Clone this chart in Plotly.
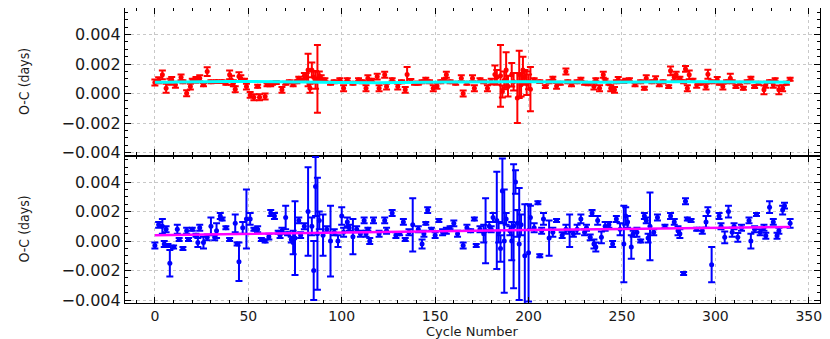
import plotly.graph_objects as go
from plotly.subplots import make_subplots

# ----------------------------
# Data (O-C residuals in days)
# ----------------------------

top_cycle = [0, 2, 4, 6, 8, 9, 11, 14, 15, 17, 19, 20, 22, 24, 26, 28, 30, 33, 36, 38,
             40, 41, 42, 43, 45, 46, 48, 49, 51, 53, 55, 56, 59, 60, 62, 63, 65, 68, 70, 72,
             74, 76, 77, 79, 80, 81, 82, 83, 84, 85, 86, 87, 88, 89, 91, 94, 96, 99, 101, 103,
             106, 109, 111, 113, 114, 116, 119, 120, 123, 124, 127, 130, 132, 134, 135, 137, 139, 141, 143, 145,
             147, 149, 151, 153, 155, 156, 158, 161, 164, 165, 167, 170, 171, 174, 176, 178, 180, 182, 183, 185,
             186, 187, 188, 189, 191, 192, 194, 195, 196, 197, 198, 199, 200, 201, 203, 206, 209, 211, 213, 215,
             217, 220, 221, 223, 226, 228, 230, 232, 235, 236, 238, 240, 241, 243, 244, 246, 247, 248, 251, 252,
             254, 257, 260, 262, 263, 266, 268, 270, 272, 275, 276, 278, 279, 281, 283, 284, 285, 286, 288, 290,
             292, 295, 296, 298, 301, 302, 304, 306, 308, 309, 311, 313, 315, 317, 319, 321, 323, 326, 327, 329,
             331, 332, 334, 336, 338, 340]

top_oc = [0.00075, 0.0009, 0.00127, 0.00036, 0.0008, 0.00093, 0.0006, 0.0011, 0.0008, 0.00002,
          0.00047, 0.0009, 0.00093, 0.00104, 0.00059, 0.00149, 0.0008, 0.00081, 0.00081, 0.0007,
          0.00127, 0.0009, 0.0007, 0.00029, 0.00115, 0.00104, 0.0009, 0.00047, -0.00009, -0.00025,
          0.0005, -0.00025, -0.0002, 0.0006, 0.00059, 0.0007, 0.00075, 0.00025, 0.0007, 0.0008,
          0.00059, 0.0008, 0.00104, 0.0009, 0.0012, 0.0011, 0.0016, 0.00036, 0.0016, 0.0011,
          0.00093, 0.001, 0.0012, 0.00104, 0.00093, 0.0007, 0.0008, 0.00093, 0.00036, 0.00093,
          0.0007, 0.00093, 0.0008, 0.00036, 0.00104, 0.0009, 0.00115, 0.00036, 0.00127, 0.00047,
          0.00093, 0.00047, 0.0008, 0.00025, 0.0013, 0.00088, 0.0007, 0.0007, 0.0008, 0.00097,
          0.0008, 0.00036, 0.00052, 0.0008, 0.00093, 0.00127, 0.0008, 0.0007, 0.00104, 0.0,
          0.0007, 0.00104, 0.00036, 0.00093, 0.0008, 0.00036, 0.00081, 0.0013, 0.0011, 0.0012,
          0.00014, 0.0009, 0.0016, 0.0005, 0.00127, 0.0008, -0.0003, 0.0013, 0.0006, 0.0016,
          0.0011, 0.0007, 0.0008, 0.0003, 0.00093, 0.00081, 0.00047, 0.0008, 0.00104, 0.00052,
          0.0007, 0.00149, 0.0008, 0.00059, 0.0008, 0.00097, 0.0007, 0.00066, 0.00047, 0.00093,
          0.00036, 0.00127, 0.0009, 0.0007, 0.00036, 0.00025, 0.0008, 0.00093, 0.00081, 0.0009,
          0.00093, 0.00059, 0.0008, 0.00036, 0.00104, 0.0008, 0.00097, 0.00059, 0.0008, 0.00047,
          0.00154, 0.0011, 0.00127, 0.00104, 0.0008, 0.00167, 0.00036, 0.00127, 0.0009, 0.00059,
          0.0007, 0.00047, 0.00131, 0.0008, 0.00093, 0.0007, 0.00047, 0.0008, 0.00104, 0.0008,
          0.00047, 0.0007, 0.00036, 0.0008, 0.00104, 0.00047, 0.0007, 0.00025, 0.0006, 0.00081,
          0.0006, 0.00093, 0.00025, 0.00036, 0.0007, 0.00097]

top_err = [0.0002, 0.0002, 0.0003, 0.0003, 0.0002, 0.0002, 0.0002, 0.0002, 0.0001, 0.0002,
           0.0002, 0.0001, 0.0002, 0.0002, 0.0001, 0.0003, 0.0001, 0.0001, 0.0001, 0.0001,
           0.0003, 0.0003, 0.0002, 0.0002, 0.0003, 0.0002, 0.0001, 0.0002, 0.0002, 0.0002,
           0.0001, 0.0002, 0.0002, 0.0001, 0.0001, 0.0001, 0.0001, 0.0002, 0.0001, 0.0001,
           0.0001, 0.0001, 0.0001, 0.0001, 0.0002, 0.0003, 0.0011, 0.0003, 0.0005, 0.0004,
           0.0006, 0.0023, 0.0003, 0.0002, 0.0001, 0.0001, 0.0001, 0.0001, 0.0002, 0.0001,
           0.0001, 0.0001, 0.0001, 0.0002, 0.0002, 0.0001, 0.0002, 0.0002, 0.0002, 0.0002,
           0.0001, 0.0002, 0.0001, 0.0002, 0.0005, 0.0001, 0.0001, 0.0001, 0.0001, 0.0001,
           0.0001, 0.0002, 0.0002, 0.0001, 0.0001, 0.0002, 0.0001, 0.0001, 0.0002, 0.0002,
           0.0001, 0.0002, 0.0002, 0.0001, 0.0001, 0.0002, 0.0002, 0.0006, 0.0005, 0.0021,
           0.0004, 0.0006, 0.0012, 0.0007, 0.0008, 0.0006, 0.0017, 0.0016, 0.0008, 0.0009,
           0.0005, 0.0008, 0.0005, 0.0015, 0.0001, 0.0001, 0.0001, 0.0001, 0.0001, 0.0002,
           0.0001, 0.0002, 0.0001, 0.0001, 0.0001, 0.0001, 0.0001, 0.0001, 0.0002, 0.0001,
           0.0002, 0.0002, 0.0001, 0.0001, 0.0002, 0.0002, 0.0001, 0.0002, 0.0001, 0.0001,
           0.0001, 0.0001, 0.0001, 0.0001, 0.0002, 0.0001, 0.0002, 0.0001, 0.0001, 0.0001,
           0.0003, 0.0002, 0.0002, 0.0001, 0.0001, 0.0002, 0.0002, 0.0003, 0.0001, 0.0002,
           0.0001, 0.0002, 0.0003, 0.0001, 0.0002, 0.0001, 0.0002, 0.0001, 0.0003, 0.0001,
           0.0001, 0.0001, 0.0001, 0.0001, 0.0001, 0.0001, 0.0001, 0.0003, 0.0002, 0.0001,
           0.0002, 0.0001, 0.0003, 0.0002, 0.0001, 0.0001]

top_fit_cycle = [0, 40, 80, 120, 160, 200, 240, 280, 320, 340]
top_fit_oc = [0.00076, 0.00082, 0.00078, 0.00074, 0.00078, 0.0008, 0.00076, 0.0008, 0.00078, 0.00076]

bot_cycle = [0, 2, 4, 5, 6, 7, 8, 10, 12, 13, 15, 17, 18, 20, 22, 23, 24, 26, 28, 30,
             32, 33, 35, 36, 38, 40, 43, 44, 45, 47, 49, 51, 53, 55, 57, 59, 61, 62, 64, 66,
             67, 68, 70, 71, 73, 74, 75, 77, 78, 80, 82, 84, 85, 86, 87, 88, 90, 92, 94, 96,
             98, 100, 101, 103, 104, 106, 108, 110, 112, 113, 114, 115, 117, 120, 123, 124, 127, 129, 131, 133,
             134, 136, 138, 141, 143, 144, 145, 146, 148, 150, 152, 154, 156, 158, 160, 162, 165, 167, 169, 171,
             172, 174, 176, 177, 179, 180, 181, 183, 184, 185, 186, 187, 188, 190, 191, 192, 193, 194, 195, 196,
             198, 200, 201, 203, 205, 206, 207, 208, 211, 213, 215, 218, 220, 222, 224, 226, 228, 230, 231, 233,
             234, 235, 236, 237, 239, 241, 243, 245, 247, 249, 251, 252, 253, 255, 256, 258, 260, 262, 263, 264,
             265, 267, 269, 273, 276, 278, 280, 281, 283, 284, 285, 287, 290, 293, 295, 296, 298, 302, 303, 305,
             307, 309, 310, 312, 314, 318, 319, 321, 322, 324, 326, 327, 329, 331, 333, 334, 336, 337, 340]

bot_oc = [-0.0003, 0.0011, 0.001, -0.0002, 0.0008, -0.0003, -0.0015, -0.0004, 0.0008, 0.0001,
          -0.0005, 0.0007, 0.0001, 0.0008, 0.0004, -0.0001, 0.0009, -0.0001, 0.00025, 0.001,
          0.00025, 0.0007, 0.0017, 0.0015, 0.0009, 0.0001, 0.0012, -0.0002, -0.0014, 0.0009,
          0.0015, 0.0015, 0.0008, 0.0008, 0.0001, 0.0, 0.0003, 0.0019, 0.0017, 0.0006,
          0.0004, 0.0007, 0.0016, 0.0005, 0.0001, -0.0001, 0.0002, 0.0014, 0.0004, 0.001,
          0.002, 0.001, -0.002, 0.0037, 0.0005, 0.0014, 0.0004, 0.0008, 0.0, 0.0006,
          0.0, 0.0017, 0.0006, 0.0013, 0.0009, 0.0003, 0.0008, 0.0005, 0.0014, 0.0005,
          0.0008, 0.0, 0.0014, 0.0005, 0.0014, 0.0007, 0.0019, 0.0004, 0.0005, 0.0013,
          0.0001, 0.0006, 0.0011, 0.0008, -0.0002, 0.0005, 0.0012, 0.0021, 0.0008, 0.0004,
          0.0014, 0.0006, 0.0007, 0.0009, 0.0012, 0.0005, -0.0003, 0.0009, 0.0007, 0.0015,
          -0.0003, 0.0008, 0.0005, 0.0007, 0.001, 0.0008, 0.0016, 0.0014, 0.0006, -0.0005,
          0.0034, 0.0, 0.0015, 0.0007, 0.0, 0.001, 0.004, 0.0012, -0.0002, 0.0011,
          -0.001, -0.0008, 0.0016, 0.0009, 0.0026, -0.001, 0.0007, 0.0015, 0.0002, 0.0006,
          0.0014, 0.0004, 0.0008, 0.0007, 0.0005, 0.0008, 0.0015, 0.0006, 0.0009, 0.00025,
          0.0019, -0.0002, -0.0004, 0.0014, 0.00025, 0.001, 0.0011, -0.0002, 0.0015, 0.0008,
          -0.0002, 0.0017, 0.0013, -0.0004, 0.0005, 0.0006, 0.0, 0.0017, 0.0014, 0.0002,
          0.001, 0.0006, 0.0016, 0.001, 0.0017, 0.0013, 0.0007, 0.0005, -0.0022, 0.0027,
          0.0015, 0.0014, 0.0008, 0.0007, 0.0013, 0.002, -0.0016, 0.0017, 0.001, 0.00025,
          0.002, 0.0006, 0.001, 0.00025, 0.0009, 0.0014, 0.0, 0.0008, 0.0018, 0.0006,
          0.0009, 0.00036, 0.0023, 0.0013, 0.00036, 0.0007, 0.0021, 0.0024, 0.0012]

bot_err = [0.0002, 0.0002, 0.0005, 0.0002, 0.0002, 0.0001, 0.0009, 0.0001, 0.0003, 0.0001,
           0.0001, 0.0002, 0.0001, 0.0001, 0.0001, 0.0003, 0.0002, 0.0004, 0.0002, 0.0006,
           0.0002, 0.0005, 0.0002, 0.0001, 0.0001, 0.0001, 0.0006, 0.0001, 0.0013, 0.0004,
           0.002, 0.0004, 0.0001, 0.0002, 0.0001, 0.0001, 0.0002, 0.0002, 0.0002, 0.0001,
           0.0002, 0.0002, 0.0008, 0.0001, 0.0002, 0.0008, 0.0025, 0.0002, 0.0002, 0.0002,
           0.003, 0.0006, 0.002, 0.002, 0.0038, 0.0006, 0.0014, 0.0002, 0.0024, 0.0002,
           0.0004, 0.0006, 0.0003, 0.0003, 0.0002, 0.0012, 0.0002, 0.0002, 0.0002, 0.0002,
           0.0001, 0.0002, 0.0002, 0.0002, 0.0002, 0.0002, 0.0002, 0.0002, 0.0001, 0.0002,
           0.0001, 0.0002, 0.0018, 0.0002, 0.0003, 0.0002, 0.0001, 0.0002, 0.0001, 0.0002,
           0.0001, 0.0002, 0.0002, 0.0001, 0.0002, 0.0002, 0.0002, 0.0002, 0.0001, 0.0001,
           0.0001, 0.0002, 0.0006, 0.0022, 0.0003, 0.0002, 0.0003, 0.0033, 0.0007, 0.0009,
           0.0022, 0.0035, 0.0004, 0.0003, 0.0013, 0.0042, 0.0008, 0.0009, 0.0038, 0.0007,
           0.0035, 0.0033, 0.0008, 0.0003, 0.0001, 0.0001, 0.0002, 0.0004, 0.0012, 0.0003,
           0.0001, 0.0002, 0.0003, 0.0011, 0.0002, 0.0003, 0.0003, 0.0002, 0.0002, 0.0002,
           0.0002, 0.0003, 0.0003, 0.0003, 0.0004, 0.0003, 0.0002, 0.0002, 0.0002, 0.0004,
           0.0026, 0.0006, 0.0004, 0.0008, 0.0002, 0.0003, 0.0001, 0.0002, 0.0002, 0.0003,
           0.0023, 0.0002, 0.0002, 0.0001, 0.0002, 0.0002, 0.0003, 0.0003, 0.0001, 0.0002,
           0.0001, 0.0001, 0.0001, 0.0002, 0.0004, 0.0003, 0.0012, 0.0002, 0.0002, 0.0004,
           0.0004, 0.0003, 0.0002, 0.0003, 0.0002, 0.0002, 0.0005, 0.0002, 0.0001, 0.0002,
           0.0002, 0.0002, 0.0004, 0.0002, 0.0002, 0.0002, 0.0003, 0.0002, 0.0003]

bot_fit_cycle = [0, 50, 100, 150, 200, 250, 300, 340]
bot_fit_oc = [0.0004, 0.0005, 0.00059, 0.00067, 0.00075, 0.00082, 0.00089, 0.00095]

x_ticks = [0, 50, 100, 150, 200, 250, 300, 350]
y_ticks = [-0.004, -0.002, 0.0, 0.002, 0.004]

# ----------------------------
# Figure
# ----------------------------

fig = make_subplots(rows=2, cols=1, shared_xaxes=True, vertical_spacing=0)

fig.add_trace(
    go.Scatter(
        x=top_cycle, y=top_oc, mode="markers",
        marker=dict(color="#FF0000", size=5),
        error_y=dict(type="data", array=top_err, color="#FF0000", thickness=2, width=3.5),
        name="O-C",
    ),
    row=1, col=1,
)
fig.add_trace(
    go.Scatter(
        x=top_fit_cycle, y=top_fit_oc, mode="lines", line_shape="spline",
        line=dict(color="#00FFFF", width=3),
        name="fit",
    ),
    row=1, col=1,
)

fig.add_trace(
    go.Scatter(
        x=bot_cycle, y=bot_oc, mode="markers",
        marker=dict(color="#0000FF", size=5),
        error_y=dict(type="data", array=bot_err, color="#0000FF", thickness=2, width=3.5),
        name="O-C",
    ),
    row=2, col=1,
)
fig.add_trace(
    go.Scatter(
        x=bot_fit_cycle, y=bot_fit_oc, mode="lines",
        line=dict(color="#FF00FF", width=2.5),
        name="fit",
    ),
    row=2, col=1,
)

# ----------------------------
# Axes (matplotlib-like frame)
# ----------------------------

axis_style = dict(
    showline=True, linecolor="black", linewidth=1.2, mirror="allticks",
    ticks="inside", ticklen=6, tickcolor="black", tickwidth=1.2,
    showgrid=True, gridcolor="#c8c8c8", griddash="dot", gridwidth=1,
    zeroline=False, automargin=False,
    tickfont=dict(family="DejaVu Sans", size=16, color="#1a1a1a"),
)

fig.update_xaxes(
    **axis_style, range=[-16, 356], tickvals=x_ticks,
    minor=dict(ticks="inside", ticklen=3, dtick=10, tick0=0, tickcolor="black", showgrid=False),
)
fig.update_xaxes(showticklabels=False, row=1, col=1)
fig.update_xaxes(tickfont_size=14, row=2, col=1)

fig.update_yaxes(
    **axis_style, range=[-0.0042, 0.0058], tickvals=y_ticks, tickformat=".3f",
    minor=dict(ticks="inside", ticklen=3, dtick=0.0005, tick0=0, tickcolor="black", showgrid=False),
)

# ----------------------------
# Axis titles as annotations
# ----------------------------

title_font = dict(family="DejaVu Sans Condensed, DejaVu Sans", size=14, color="#1a1a1a")

for y_mid in [0.75, 0.25]:
    fig.add_annotation(
        text="O-C (days)", xref="paper", yref="paper", x=-0.145, y=y_mid,
        xanchor="center", yanchor="middle", textangle=-90, showarrow=False,
        font=title_font,
    )

fig.add_annotation(
    text="Cycle Number", xref="paper", yref="paper", x=0.5, y=-0.095,
    xanchor="center", yanchor="middle", showarrow=False,
    font=dict(family="DejaVu Sans", size=13, color="#1a1a1a"),
)

# ----------------------------
# Layout (page body adds an 8px offset)
# ----------------------------

fig.update_layout(
    width=822, height=331,
    margin=dict(l=117, r=10, t=0, b=36),
    paper_bgcolor="white", plot_bgcolor="white",
    showlegend=False,
)

fig.write_html("out.html")
